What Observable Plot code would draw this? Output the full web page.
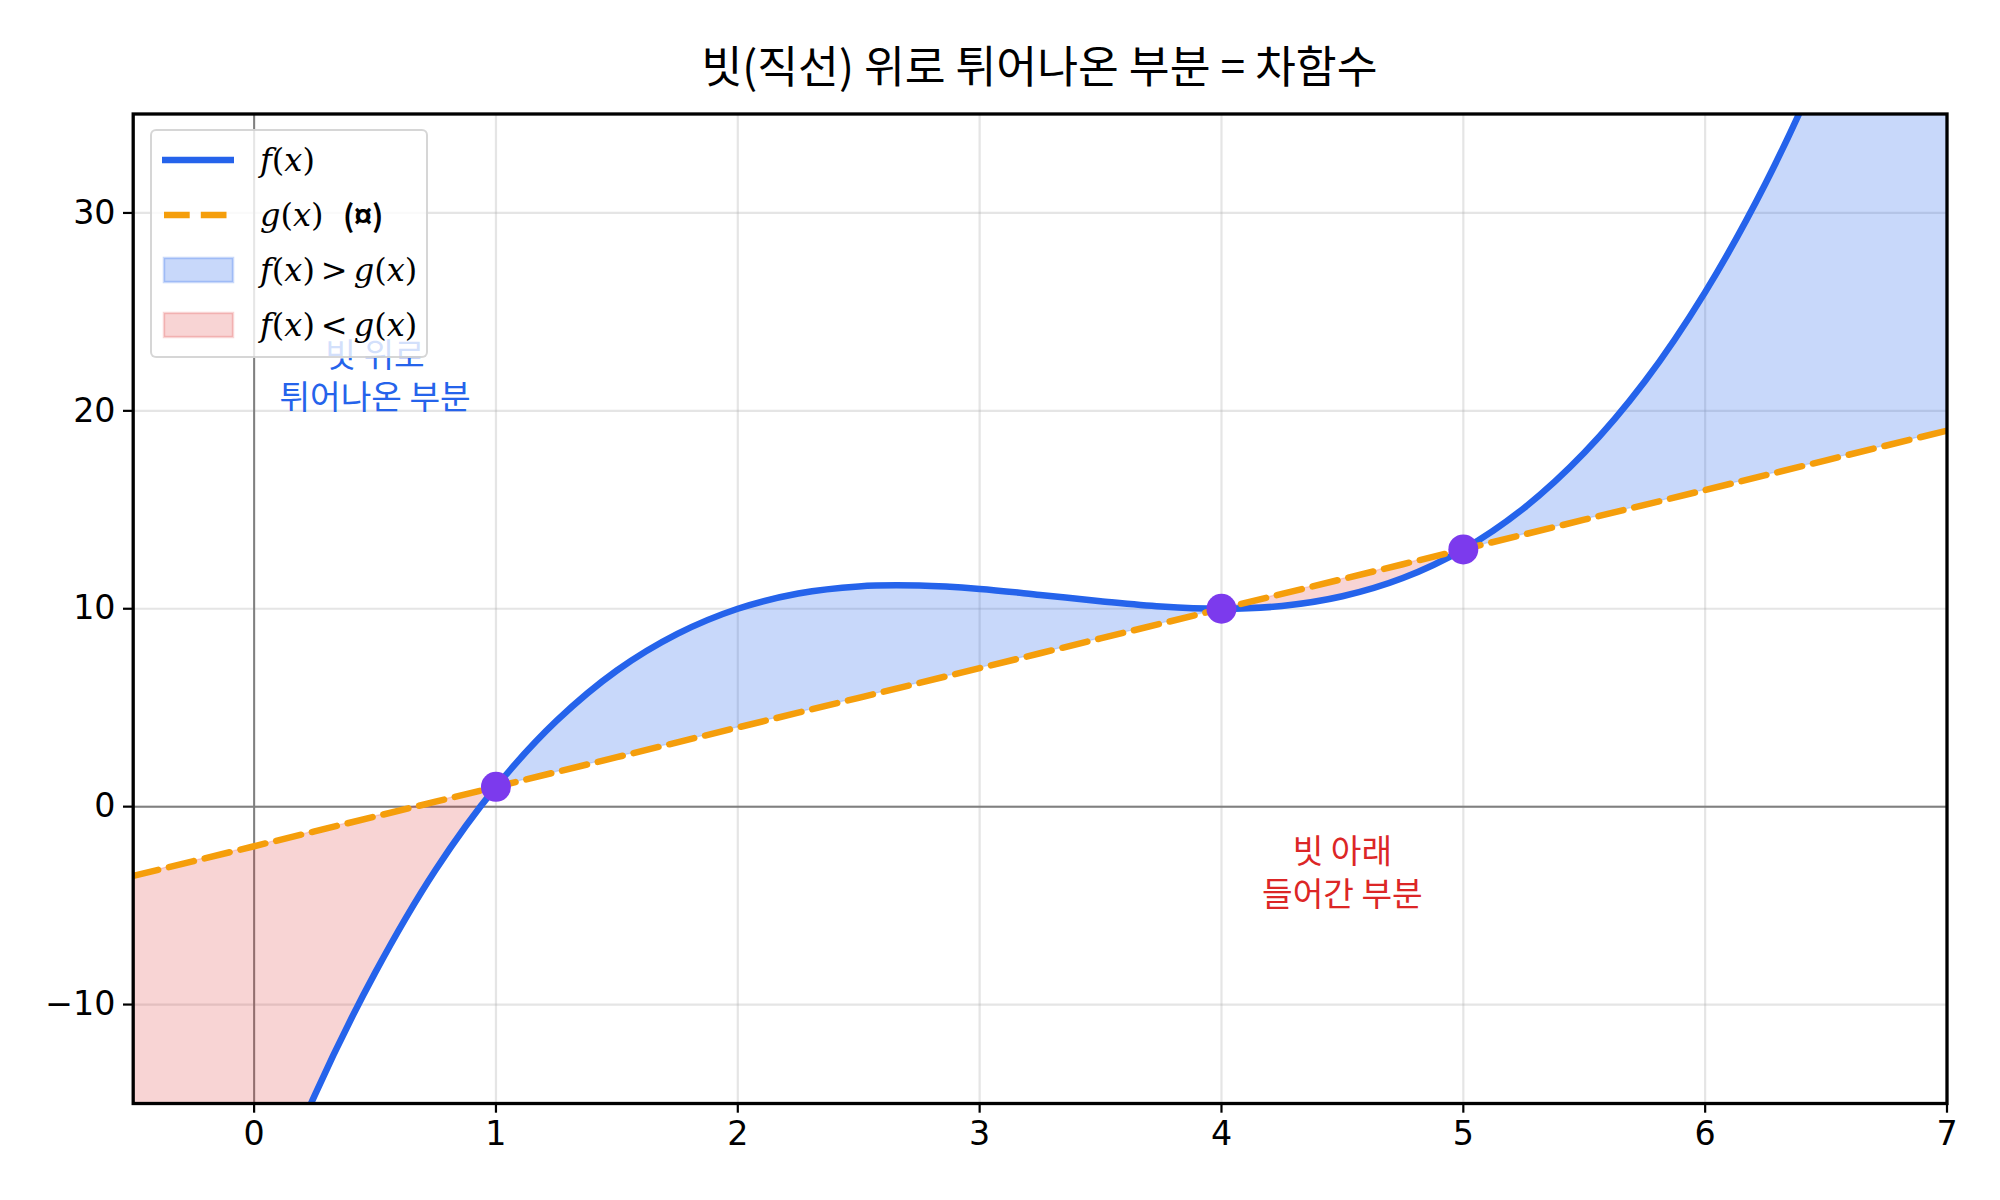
<!DOCTYPE html>
<html><head><meta charset="utf-8">
<script src="https://cdn.jsdelivr.net/npm/d3@7"></script>
<script src="https://cdn.jsdelivr.net/npm/@observablehq/plot@0.6"></script>
<style>
body{margin:0;background:#fff;}
#wrap{position:relative;width:2000px;height:1200px;overflow:hidden;}
#title{height:90px;box-sizing:border-box;padding-top:36px;padding-left:79px;line-height:56px;text-align:center;font-family:"Noto Sans CJK KR";font-size:44.4px;color:#000;white-space:nowrap;}
#legend{position:absolute;left:150px;top:129px;width:278px;height:229px;box-sizing:border-box;background:rgba(255,255,255,0.8);border:2px solid rgba(204,204,204,0.8);border-radius:6px;}
.row{position:absolute;left:0;height:40px;width:100%;}
.lab{position:absolute;left:108px;top:0;line-height:40px;font-family:"DejaVu Serif",serif;font-size:32px;white-space:nowrap;color:#000;}
.lab i{font-style:italic;}
.suf{position:absolute;left:83px;top:-1px;font-family:"Noto Sans CJK KR";font-weight:bold;font-style:normal;font-size:30px;}
.sw{position:absolute;}
</style></head>
<body>
<div id="wrap">
<div id="title"></div>
<div id="chart"></div>
<div id="legend"></div>
</div>
<script>
// ---- data ----
const titleText = "빗(직선) 위로 튀어나온 부분 = 차함수";
const xs    = [-0.5, -0.25, 0, 0.25, 0.5, 0.75, 1, 1.25, 1.5, 1.75, 2, 2.25, 2.5, 2.75, 3, 3.25, 3.5, 3.75, 4, 4.25, 4.5, 4.75, 5, 5.25, 5.5, 5.75, 6, 6.25, 6.5, 6.75, 7];
const fVals = [-40.6, -30.6, -22, -14.6, -8.4, -3.2, 1, 4.33, 6.88, 8.73, 10, 10.77, 11.13, 11.17, 11, 10.7, 10.38, 10.11, 10, 10.14, 10.63, 11.55, 13, 15.08, 17.88, 21.48, 26, 31.5, 38.1, 45.9, 55];
const gVals = [-3.5, -2.75, -2, -1.25, -0.5, 0.25, 1, 1.75, 2.5, 3.25, 4, 4.75, 5.5, 6.25, 7, 7.75, 8.5, 9.25, 10, 10.75, 11.5, 12.25, 13, 13.75, 14.5, 15.25, 16, 16.75, 17.5, 18.25, 19];
const crossX = [1, 4, 5];
const crossY = [1, 10, 13];
const xTicks = [0, 1, 2, 3, 4, 5, 6, 7];
const yTicks = [-10, 0, 10, 20, 30];
const annX = [0.5, 4.5];
const annY = [21.85, -3.25];
const annText = ["빗 위로\n튀어나온 부분", "빗 아래\n들어간 부분"];
const legendMath = ["f(x)", "g(x)", "f(x) > g(x)", "f(x) < g(x)"];
const legendSuffix = ["", "(¤)", "", ""];

// ---- colours ----
const BLUE = "#2563eb", ORANGE = "#f59e0b", RED = "#dc2626", PURPLE = "#7c3aed";

const rows = xs.map((x, i) => ({x, f: fVals[i], g: gVals[i]}));
const pts = crossX.map((x, i) => ({x, y: crossY[i]}));
const anns = annX.map((x, i) => ({x, y: annY[i], t: annText[i], c: i === 0 ? BLUE : RED}));

// split the band between f and g into segments at the crossing points
const bounds = [xs[0], ...crossX, xs[xs.length - 1]];
const segs = [];
for (let s = 0; s < bounds.length - 1; s++) {
  const part = rows.filter(d => d.x >= bounds[s] && d.x <= bounds[s + 1]);
  const mid = part[Math.floor(part.length / 2)];
  const above = mid.f > mid.g;
  part.forEach(d => segs.push({...d, seg: s, above}));
}
const segAbove = segs.filter(d => d.above), segBelow = segs.filter(d => !d.above);

document.getElementById("title").textContent = titleText;

const chart = Plot.plot({
  width: 2000, height: 1110,
  marginLeft: 132.7, marginRight: 53.5, marginTop: 23.5, marginBottom: 97,
  style: {fontFamily: "DejaVu Sans", fontSize: "33.3px", background: "white", color: "black"},
  x: {domain: [-0.5, 7]},
  y: {domain: [-15, 35]},
  marks: [
    Plot.gridX(xTicks, {stroke: "#b0b0b0", strokeOpacity: 0.33, strokeWidth: 2.2}),
    Plot.gridY(yTicks, {stroke: "#b0b0b0", strokeOpacity: 0.33, strokeWidth: 2.2}),
    Plot.ruleY([0], {stroke: "#808080", strokeWidth: 2}),
    Plot.ruleX([0], {stroke: "#808080", strokeWidth: 2}),
    Plot.areaY(segAbove, {x: "x", y1: "g", y2: "f", z: "seg", fill: BLUE, fillOpacity: 0.25, stroke: BLUE, strokeOpacity: 0.2, strokeWidth: 1.4, curve: "catmull-rom", clip: true}),
    Plot.areaY(segBelow, {x: "x", y1: "g", y2: "f", z: "seg", fill: RED, fillOpacity: 0.2, stroke: RED, strokeOpacity: 0.18, strokeWidth: 1.4, curve: "catmull-rom", clip: true}),
    Plot.text(anns, {x: "x", y: "y", text: "t", fill: "c", fontFamily: "Noto Sans CJK KR", fontSize: 33.3, lineHeight: 1.27, lineAnchor: "middle", textAnchor: "middle"}),
    Plot.line(rows, {x: "x", y: "f", stroke: BLUE, strokeWidth: 6.5, curve: "catmull-rom", clip: true}),
    Plot.line(rows, {x: "x", y: "g", stroke: ORANGE, strokeWidth: 6.5, strokeDasharray: "25.7,11.1", clip: true}),
    Plot.dot(pts, {x: "x", y: "y", r: 15, fill: PURPLE, stroke: "none"}),
    Plot.axisX({ticks: xTicks, tickSize: 9.7, tickPadding: 8, strokeWidth: 2.2, tickFormat: d3.format("d"), label: null}),
    Plot.axisY({ticks: yTicks, tickSize: 9.7, tickPadding: 8, strokeWidth: 2.2, tickFormat: d3.format("d"), label: null}),
    Plot.frame({stroke: "black", strokeWidth: 3.3})
  ]
});
document.getElementById("chart").appendChild(chart);

// ---- legend (drawn over the plot, semi-transparent like the original) ----
const leg = document.getElementById("legend");
const rowTops = [9, 64, 119, 174];
const mathHtml = s => s.replace(/([a-z])/g, "<i>$1</i>").replace(/ ([<>]) /g, (m, op) => "<span style='margin:0 6px'>" + (op === "<" ? "&lt;" : "&gt;") + "</span>");
legendMath.forEach((m, i) => {
  const r = document.createElement("div");
  r.className = "row"; r.style.top = rowTops[i] + "px";
  let sw;
  if (i === 0) sw = `<svg class="sw" style="left:8px;top:0" width="76" height="40"><line x1="2" x2="74" y1="20" y2="20" stroke="${BLUE}" stroke-width="6.5"/></svg>`;
  else if (i === 1) sw = `<svg class="sw" style="left:8px;top:0" width="76" height="40"><line x1="4" x2="72" y1="20" y2="20" stroke="${ORANGE}" stroke-width="6.5" stroke-dasharray="25.7,11.1"/></svg>`;
  else {
    const c = i === 2 ? BLUE : RED, op = i === 2 ? 0.25 : 0.2;
    sw = `<svg class="sw" style="left:8px;top:0" width="76" height="40"><rect x="4" y="8" width="69" height="24" fill="${c}" fill-opacity="${op}" stroke="${c}" stroke-opacity="${op}" stroke-width="2.5"/></svg>`;
  }
  r.innerHTML = sw + `<div class="lab">${mathHtml(m)}${legendSuffix[i] ? `<span class="suf">${legendSuffix[i]}</span>` : ""}</div>`;
  leg.appendChild(r);
});
</script>
</body></html>
